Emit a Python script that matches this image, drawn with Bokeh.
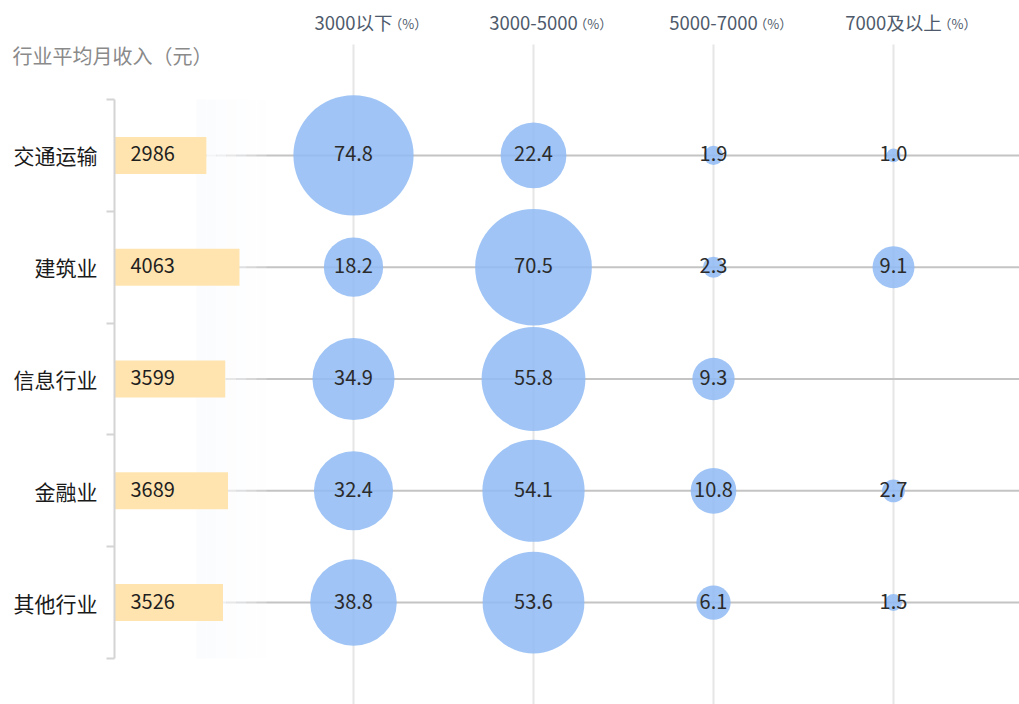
from bokeh.plotting import figure
from bokeh.models import Range1d, LinearAxis, FixedTicker, ColumnDataSource, Label
from bokeh.core.properties import value
from bokeh.embed import file_html
from bokeh.resources import INLINE
import math

# ---------------- data ----------------
industries = ["交通运输", "建筑业", "信息行业", "金融业", "其他行业"]
income = [2986, 4063, 3599, 3689, 3526]
brackets = ["3000以下", "3000-5000", "5000-7000", "7000及以上"]
share_lt3000 = [74.8, 18.2, 34.9, 32.4, 38.8]
share_3000_5000 = [22.4, 70.5, 55.8, 54.1, 53.6]
share_5000_7000 = [1.9, 2.3, 9.3, 10.8, 6.1]
share_ge7000 = [1.0, 9.1, None, 2.7, 1.5]
series = [share_lt3000, share_3000_5000, share_5000_7000, share_ge7000]
title_text = "行业平均月收入（元）"
unit_text = "（%）"

# ---------------- layout constants (screen px) ----------------
FONT = "Noto Sans CJK SC"
W, H = 1019, 704
AXIS_X = 114          # left category axis position
ROW0_TOP = 99         # top of first category band
ROW_PX = 111.8
BAR_PX = 0.030766     # px per yuan
COL0_X = 353
COL_PX = 180
GRID_TOP = 44
BUBBLE_K = 13.9       # bubble diameter = K * sqrt(share)

n = len(industries)
rows = list(range(n))
cols = list(range(len(brackets)))


def ydata(py):
    return -0.5 + (py - ROW0_TOP) / ROW_PX


def xbar(px):
    return (px - AXIS_X) / BAR_PX


p = figure(width=W, height=H, output_backend="svg", toolbar_location=None,
           x_range=Range1d(xbar(0), xbar(W)),
           y_range=Range1d(ydata(H), ydata(0)),
           x_axis_location=None, y_axis_location=None,
           min_border_left=0, min_border_top=0, min_border_right=0, min_border_bottom=0,
           outline_line_color=None, background_fill_color="white",
           border_fill_color="white")
p.extra_x_ranges = {"cols": Range1d(-COL0_X / COL_PX, (W - COL0_X) / COL_PX)}
p.xgrid.visible = False
p.ygrid.visible = False

# grid lines
p.segment(x0=cols, x1=cols, y0=ydata(GRID_TOP), y1=ydata(H), x_range_name="cols",
          line_color="#e6e6e6", line_width=2)
p.segment(x0=0, x1=xbar(W), y0=rows, y1=rows, line_color="#c4c4c4", line_width=2)

# left category axis (drawn at bar value 0)
yaxis = LinearAxis(fixed_location=0,
                   ticker=FixedTicker(ticks=rows, minor_ticks=[r - 0.5 for r in rows] + [n - 0.5]),
                   major_label_overrides={r: industries[r] for r in rows},
                   bounds=(-0.5, n - 0.5))
yaxis.axis_line_color = "#d4d4d4"
yaxis.axis_line_width = 2
yaxis.major_tick_line_color = None
yaxis.major_tick_out = 0
yaxis.major_tick_in = 0
yaxis.minor_tick_line_color = "#d4d4d4"
yaxis.minor_tick_line_width = 2
yaxis.minor_tick_out = 8
yaxis.minor_tick_in = 0
yaxis.major_label_standoff = 9
yaxis.major_label_text_font = FONT
yaxis.major_label_text_font_size = "21px"
yaxis.major_label_text_color = "#1a1a1a"
p.add_layout(yaxis, "left")

# top bracket axis
xaxis = LinearAxis(x_range_name="cols", fixed_location=ydata(GRID_TOP),
                   ticker=FixedTicker(ticks=cols),
                   major_label_overrides={j: brackets[j] for j in cols})
xaxis.axis_line_color = None
xaxis.major_tick_line_color = None
xaxis.minor_tick_line_color = None
xaxis.major_tick_out = 0
xaxis.major_tick_in = 0
xaxis.major_label_standoff = 10
xaxis.major_label_text_font = FONT
xaxis.major_label_text_font_size = "18.5px"
xaxis.major_label_text_color = "#4e5a6b"
p.add_layout(xaxis, "above")


def est_width(s, size):
    w = 0
    for c in s:
        if ord(c) > 0x2E80:
            w += 1.0
        elif c.isdigit():
            w += 0.55
        else:
            w += 0.34
    return w * size


for j, b in enumerate(brackets):
    p.add_layout(Label(x=j, y=ydata(23), x_range_name="cols", text=unit_text,
                       x_offset=est_width(b, 18.5) / 2 - 3, text_align="left",
                       text_baseline="middle", text_font=FONT,
                       text_font_size="13px", text_color="#4e5a6b"))

# title
p.add_layout(Label(x=xbar(12), y=ydata(55), text=title_text,
                   text_align="left", text_baseline="middle", text_font=FONT,
                   text_font_size="20px", text_color="#8a8a8a"))

# fading band (line gradient)
band_left, band_step = 196, 10
alphas = [0.97, 0.88, 0.76, 0.62, 0.48, 0.34, 0.2]
for k, a in enumerate(alphas):
    p.quad(left=xbar(band_left + k * band_step), right=xbar(band_left + (k + 1) * band_step),
           bottom=n - 0.5, top=-0.5, fill_color="#fbfcfe", fill_alpha=a, line_color=None)

# bars
bar_src = ColumnDataSource(dict(y=rows, income=income, label=[str(v) for v in income]))
p.hbar(y="y", left=0, right="income", height=0.331, source=bar_src,
       fill_color="#ffe4b0", line_color=None)
p.text(x=0, y="y", text="label", source=bar_src, x_offset=16, y_offset=-1.5,
       text_align="left", text_baseline="middle", text_font=value(FONT),
       text_font_size="20px", text_color="#1f1f1f")

# bubbles
bx, by, bs, bl = [], [], [], []
for j, ser in enumerate(series):
    for i, v in enumerate(ser):
        if v is None:
            continue
        bx.append(j)
        by.append(i)
        bs.append(BUBBLE_K * math.sqrt(v))
        bl.append(f"{v:.1f}")
bub_src = ColumnDataSource(dict(x=bx, y=by, size=bs, label=bl))
p.scatter(x="x", y="y", size="size", source=bub_src, x_range_name="cols",
          marker="circle", fill_color="#8fbaf3", fill_alpha=0.86, line_color=None)
p.text(x="x", y="y", text="label", source=bub_src, x_range_name="cols", y_offset=-1.5,
       text_align="center", text_baseline="middle", text_font=value(FONT),
       text_font_size="20px", text_color="#2b2b2b")

open("out.html", "w").write(file_html(p, INLINE))
